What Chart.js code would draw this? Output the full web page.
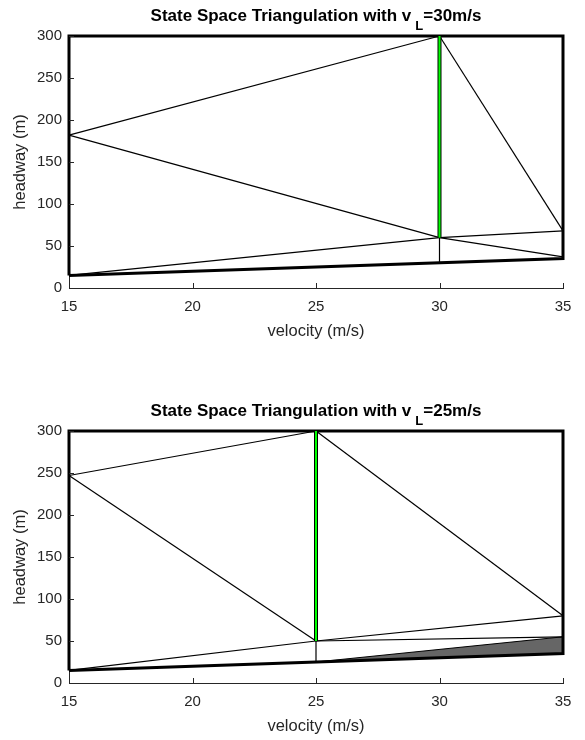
<!DOCTYPE html>
<html><head><meta charset="utf-8">
<script src="https://cdn.jsdelivr.net/npm/chart.js@4.4.1/dist/chart.umd.min.js"></script>
<style>
html,body{margin:0;padding:0;background:#fff;width:585px;height:740px;overflow:hidden}
.box{position:absolute;left:0;width:585px;height:345px}
</style></head><body>
<div class="box" style="top:0"><canvas id="c1" width="585" height="345"></canvas></div>
<div class="box" style="top:395px"><canvas id="c2" width="585" height="345"></canvas></div>
<script>
// ---- data ----
const velocityTicks = [15, 20, 25, 30, 35];
const headwayTicks = [0, 50, 100, 150, 200, 250, 300];
const leaderSpeeds = [30, 25];

// chart 1 : v_L = 30 m/s
const boundary1 = [[15, 15], [15, 300], [35, 300], [35, 35], [15, 15]];
const edges1 = [
  [[15, 182], [30, 300]],
  [[15, 182], [30, 60]],
  [[30, 300], [35, 68]],
  [[30, 60], [35, 68]],
  [[30, 60], [35, 37]],
  [[15, 15], [30, 60]],
  [[30, 60], [30, 30]]
];
const green1 = [[30, 60], [30, 300]];
const shaded1 = [];

// chart 2 : v_L = 25 m/s
const boundary2 = [[15, 15], [15, 300], [35, 300], [35, 35], [15, 15]];
const edges2 = [
  [[15, 15], [25, 50]],
  [[15, 247], [25, 300]],
  [[15, 247], [25, 50]],
  [[25, 300], [35, 80]],
  [[25, 50], [35, 80]],
  [[25, 50], [35, 55]],
  [[25, 50], [25, 25]]
];
const green2 = [[25, 50], [25, 300]];
const shaded2 = [[25, 25], [35, 55], [35, 35], [25, 25]];

// ---- rendering ----
const FONT = "'Liberation Sans', Arial, Helvetica, sans-serif";
const INK = '#262626';
const pts = a => a.map(p => ({x: p[0], y: p[1]}));

const titlePlugin = {
  id: 'mlTitle',
  afterDraw(chart, args, opts) {
    const ctx = chart.ctx, ca = chart.chartArea;
    const cx = (ca.left + ca.right) / 2;
    const base = ca.top - 15;
    ctx.save();
    ctx.fillStyle = '#000';
    ctx.textBaseline = 'alphabetic';
    ctx.textAlign = 'left';
    const mainFont = 'bold 17px ' + FONT, subFont = 'bold 13px ' + FONT;
    ctx.font = mainFont;
    const w1 = ctx.measureText(opts.main).width;
    const w3 = ctx.measureText(opts.tail).width;
    ctx.font = subFont;
    const gap = 4;
    const w2 = ctx.measureText(opts.sub).width;
    let x = cx - (w1 + gap + w2 + w3) / 2;
    ctx.font = mainFont; ctx.fillText(opts.main, x, base); x += w1 + gap;
    ctx.font = subFont; ctx.fillText(opts.sub, x, base + 9); x += w2;
    ctx.font = mainFont; ctx.fillText(opts.tail, x, base);
    ctx.restore();
  }
};

const tickPlugin = {
  id: 'inTicks',
  afterDraw(chart) {
    const ctx = chart.ctx, xs = chart.scales.x, ys = chart.scales.y;
    ctx.save();
    ctx.strokeStyle = INK; ctx.lineWidth = 1;
    ctx.beginPath();
    xs.ticks.forEach(t => {
      const p = Math.round(xs.getPixelForValue(t.value)) + 0.5;
      ctx.moveTo(p, ys.bottom); ctx.lineTo(p, ys.bottom - 5);
    });
    ys.ticks.forEach(t => {
      const p = Math.round(ys.getPixelForValue(t.value)) + 0.5;
      ctx.moveTo(xs.left, p); ctx.lineTo(xs.left + 5, p);
    });
    ctx.stroke();
    ctx.restore();
  }
};

function makeChart(id, vL, boundary, edges, green, shaded) {
  const datasets = [];
  datasets.push({data: pts(green), borderColor: '#00ff00', borderWidth: 2, order: 0});
  datasets.push({data: pts(green), borderColor: '#000', borderWidth: 4, order: 1});
  datasets.push({data: pts(boundary), borderColor: '#000', borderWidth: 3, order: 2});
  edges.forEach(e => datasets.push({data: pts(e), borderColor: '#000', borderWidth: 1.2, order: 3}));
  if (shaded.length) {
    datasets.push({data: pts(shaded), borderColor: '#000', borderWidth: 1, backgroundColor: '#666666', fill: 'shape', order: 4});
  }
  datasets.forEach(d => { d.showLine = true; d.pointRadius = 0; d.pointHoverRadius = 0; d.clip = false; if (!d.fill) d.fill = false; });

  return new Chart(document.getElementById(id), {
    type: 'scatter',
    data: {datasets},
    plugins: [titlePlugin, tickPlugin],
    options: {
      responsive: false,
      animation: false,
      events: [],
      layout: {padding: {left: 0, right: 22, top: 36, bottom: 4}},
      plugins: {
        legend: {display: false},
        tooltip: {enabled: false},
        mlTitle: {main: 'State Space Triangulation with v', sub: 'L', tail: '=' + vL + 'm/s'}
      },
      scales: {
        x: {
          type: 'linear', min: 15, max: 35,
          afterBuildTicks: s => { s.ticks = velocityTicks.map(v => ({value: v})); },
          afterFit: s => { s.height = 53; },
          grid: {display: true, drawOnChartArea: false, drawTicks: false},
          border: {display: true, color: INK, width: 1},
          ticks: {padding: 10, color: INK, font: {family: FONT, size: 15}, maxRotation: 0, autoSkip: false},
          title: {display: true, text: 'velocity (m/s)', color: INK, font: {family: FONT, size: 16.5}, padding: {top: 0, bottom: 0}}
        },
        y: {
          type: 'linear', min: 0, max: 300,
          afterBuildTicks: s => { s.ticks = headwayTicks.map(v => ({value: v})); },
          afterFit: s => { s.width = 69; },
          grid: {display: true, drawOnChartArea: false, drawTicks: false},
          border: {display: true, color: INK, width: 1},
          ticks: {padding: 7, color: INK, font: {family: FONT, size: 15}, autoSkip: false},
          title: {display: true, text: 'headway (m)', color: INK, font: {family: FONT, size: 16.5}, padding: {top: 11, bottom: 0}}
        }
      }
    }
  });
}

makeChart('c1', leaderSpeeds[0], boundary1, edges1, green1, shaded1);
makeChart('c2', leaderSpeeds[1], boundary2, edges2, green2, shaded2);
</script>
</body></html>
